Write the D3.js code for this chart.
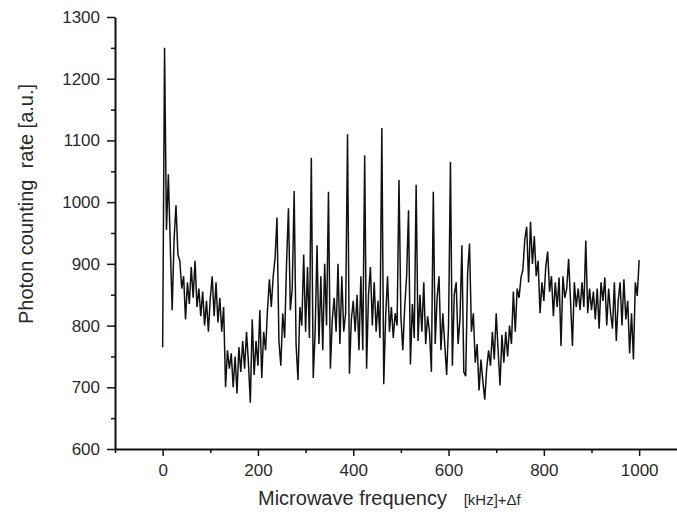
<!DOCTYPE html>
<html>
<head>
<meta charset="UTF-8">
<title>Photon counting rate</title>
<script src="https://cdn.jsdelivr.net/npm/d3@7"></script>
<style>
  body { margin: 0; background: #fff; }
  svg { display: block; }
</style>
</head>
<body>
<script>
// data: counting rate, one value every 4 kHz from 0 to 1000
var freqStep = 4;
var counts = [
  765, 1250, 955, 1045, 930, 825, 940, 995, 915, 905,
  860, 880, 810, 870, 835, 895, 845, 905, 830, 860,
  815, 855, 800, 840, 790, 845, 880, 815, 870, 805,
  845, 790, 830, 700, 760, 730, 755, 700, 750, 690,
  765, 725, 775, 730, 790, 740, 675, 810, 720, 775,
  735, 825, 715, 790, 760, 825, 875, 830, 880, 910,
  975, 775, 735, 820, 780, 900, 990, 825, 860, 1018,
  770, 712, 830, 800, 915, 790, 895, 780, 1072, 715,
  790, 930, 770, 880, 760, 900, 800, 1017, 730, 810,
  845, 790, 900, 770, 880, 790, 820, 1110, 722, 810,
  840, 790, 850, 760, 880, 760, 1076, 730, 850, 895,
  800, 870, 790, 840, 780, 1120, 705, 815, 880, 790,
  830, 780, 820, 800, 1036, 815, 760, 830, 880, 987,
  737, 835, 780, 1028, 775, 850, 790, 870, 770, 815,
  790, 725, 1017, 770, 845, 880, 760, 820, 770, 720,
  800, 1065, 735, 850, 870, 770, 810, 930, 725, 718,
  885, 933, 790, 820, 740, 770, 695, 745, 710, 680,
  730, 760, 735, 790, 745, 820, 760, 703, 785, 740,
  790, 750, 800, 770, 855, 790, 860, 845, 878, 890,
  940, 960, 870, 968, 900, 945, 880, 905, 820, 870,
  840, 895, 920, 855, 880, 815, 870, 830, 878, 767,
  880, 845, 860, 908, 840, 767, 870, 830, 860, 825,
  870, 830, 938, 820, 860, 825, 855, 810, 860, 795,
  870, 840, 878, 800, 860, 820, 795, 870, 775, 840,
  870, 800, 875, 810, 840, 755, 820, 745, 870, 848,
  906
];
var xTicks = [0, 200, 400, 600, 800, 1000];
var xMinor = [-100, 100, 300, 500, 700, 900, 1100];
var yTicks = [600, 700, 800, 900, 1000, 1100, 1200, 1300];
var yMinor = [650, 750, 850, 950, 1050, 1150, 1250];

var width = 677, height = 514;
var font = "Arial, 'Liberation Sans', sans-serif";

var svg = d3.select("body").append("svg")
    .attr("width", width)
    .attr("height", height);

var x = d3.scaleLinear().domain([-100, 1100]).range([115, 686.8]);
var y = d3.scaleLinear().domain([600, 1300]).range([449, 17]);

// trace
var line = d3.line()
    .x(function(d, i) { return x(i * freqStep); })
    .y(function(d) { return y(d); });

svg.append("path")
    .datum(counts)
    .attr("d", line)
    .attr("fill", "none")
    .attr("stroke", "#111")
    .attr("stroke-width", 1.5)
    .attr("stroke-linejoin", "bevel");

// minor ticks
svg.append("g")
    .attr("transform", "translate(0,449)")
    .call(d3.axisBottom(x).tickValues(xMinor).tickSize(4).tickFormat(""))
    .call(function(g) { g.select(".domain").remove(); });

svg.append("g")
    .attr("transform", "translate(115,0)")
    .call(d3.axisLeft(y).tickValues(yMinor).tickSize(4).tickFormat(""))
    .call(function(g) { g.select(".domain").remove(); });

// major axes
svg.append("g")
    .attr("transform", "translate(0,449)")
    .call(d3.axisBottom(x).tickValues(xTicks).tickFormat(d3.format("d"))
        .tickSize(7).tickSizeOuter(0).tickPadding(8));

svg.append("g")
    .attr("transform", "translate(115,0)")
    .call(d3.axisLeft(y).tickValues(yTicks).tickFormat(d3.format("d"))
        .tickSize(8).tickSizeOuter(0).tickPadding(7));

svg.selectAll(".domain").attr("stroke", "#111").attr("stroke-width", 2);
svg.selectAll(".tick line").attr("stroke", "#111").attr("stroke-width", 1.5);
svg.selectAll(".tick text")
    .attr("font-family", font)
    .attr("font-size", 17)
    .attr("fill", "#2a2a2a");

// axis titles
svg.append("text")
    .attr("transform", "translate(33,204) rotate(-90)")
    .attr("text-anchor", "middle")
    .attr("font-family", font)
    .attr("font-size", 20)
    .attr("fill", "#2a2a2a")
    .style("white-space", "pre")
    .text("Photon counting  rate [a.u.]");

var xt = svg.append("text")
    .attr("x", 258)
    .attr("y", 505)
    .attr("font-family", font)
    .attr("font-size", 20)
    .attr("fill", "#2a2a2a")
    .style("white-space", "pre");
xt.append("tspan").text("Microwave frequency   ");
xt.append("tspan").attr("font-size", 15).text("[kHz]+\u0394f");
</script>
</body>
</html>
